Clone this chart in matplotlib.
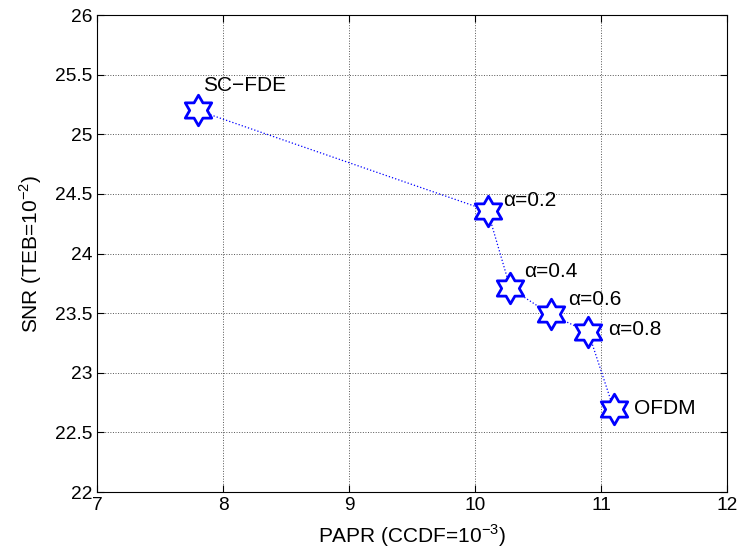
import numpy as np
import matplotlib
matplotlib.use("Agg")
import matplotlib.pyplot as plt
from matplotlib.path import Path

papr = [7.8, 10.1, 10.28, 10.6, 10.9, 11.1]
snr = [25.2, 24.36, 23.71, 23.49, 23.34, 22.70]
labels = ["SC\u2212FDE", "\u03b1=0.2", "\u03b1=0.4", "\u03b1=0.6", "\u03b1=0.8", "OFDM"]
offsets = [(4, 18), (11, 7), (10, 12), (13, 11), (14, 2), (15, 0)]

plt.rcParams['font.family'] = ['Liberation Sans', 'DejaVu Sans']
plt.rcParams['mathtext.fontset'] = 'custom'
plt.rcParams['mathtext.rm'] = 'Liberation Sans'

# six pointed star (hexagram)
ang = np.pi / 2 + np.arange(12) * np.pi / 6
rad = np.where(np.arange(12) % 2 == 0, 1.0, 1 / np.sqrt(3))
verts = np.column_stack([rad * np.cos(ang), rad * np.sin(ang)])
verts = np.vstack([verts, verts[:1]])
star = Path(verts, closed=True)

fig = plt.figure(figsize=(7.41, 5.56), dpi=100)
ax = fig.add_axes([0.131, 0.115, 0.85, 0.858])

ax.plot(papr, snr, ':', color='blue', lw=0.9)
ax.plot(papr, snr, ls='none', marker=star, ms=22, mfc='white', mec='blue', mew=2)

for x, y, t, off in zip(papr, snr, labels, offsets):
    ax.annotate(t, (x, y), xytext=off, textcoords='offset points',
                fontsize=15, va='center', ha='left')

ax.set_xlim(7, 12)
ax.set_ylim(22, 26)
ax.set_xticks(np.arange(7, 13, 1))
ax.set_yticks(np.arange(22, 26.5, 0.5))
ax.set_yticklabels(['22', '22.5', '23', '23.5', '24', '24.5', '25', '25.5', '26'])
ax.grid(True, ls=':', color='#555555', lw=0.7)
ax.tick_params(direction='in', top=True, right=True, labelsize=13.8, length=5)
ax.set_xlabel('PAPR (CCDF=10$^{\\mathregular{-3}}$)', fontsize=15, labelpad=6)
ax.set_ylabel('SNR (TEB=10$^{\\mathregular{-2}}$)', fontsize=15, labelpad=8)

fig.savefig('out.png', dpi=100)
